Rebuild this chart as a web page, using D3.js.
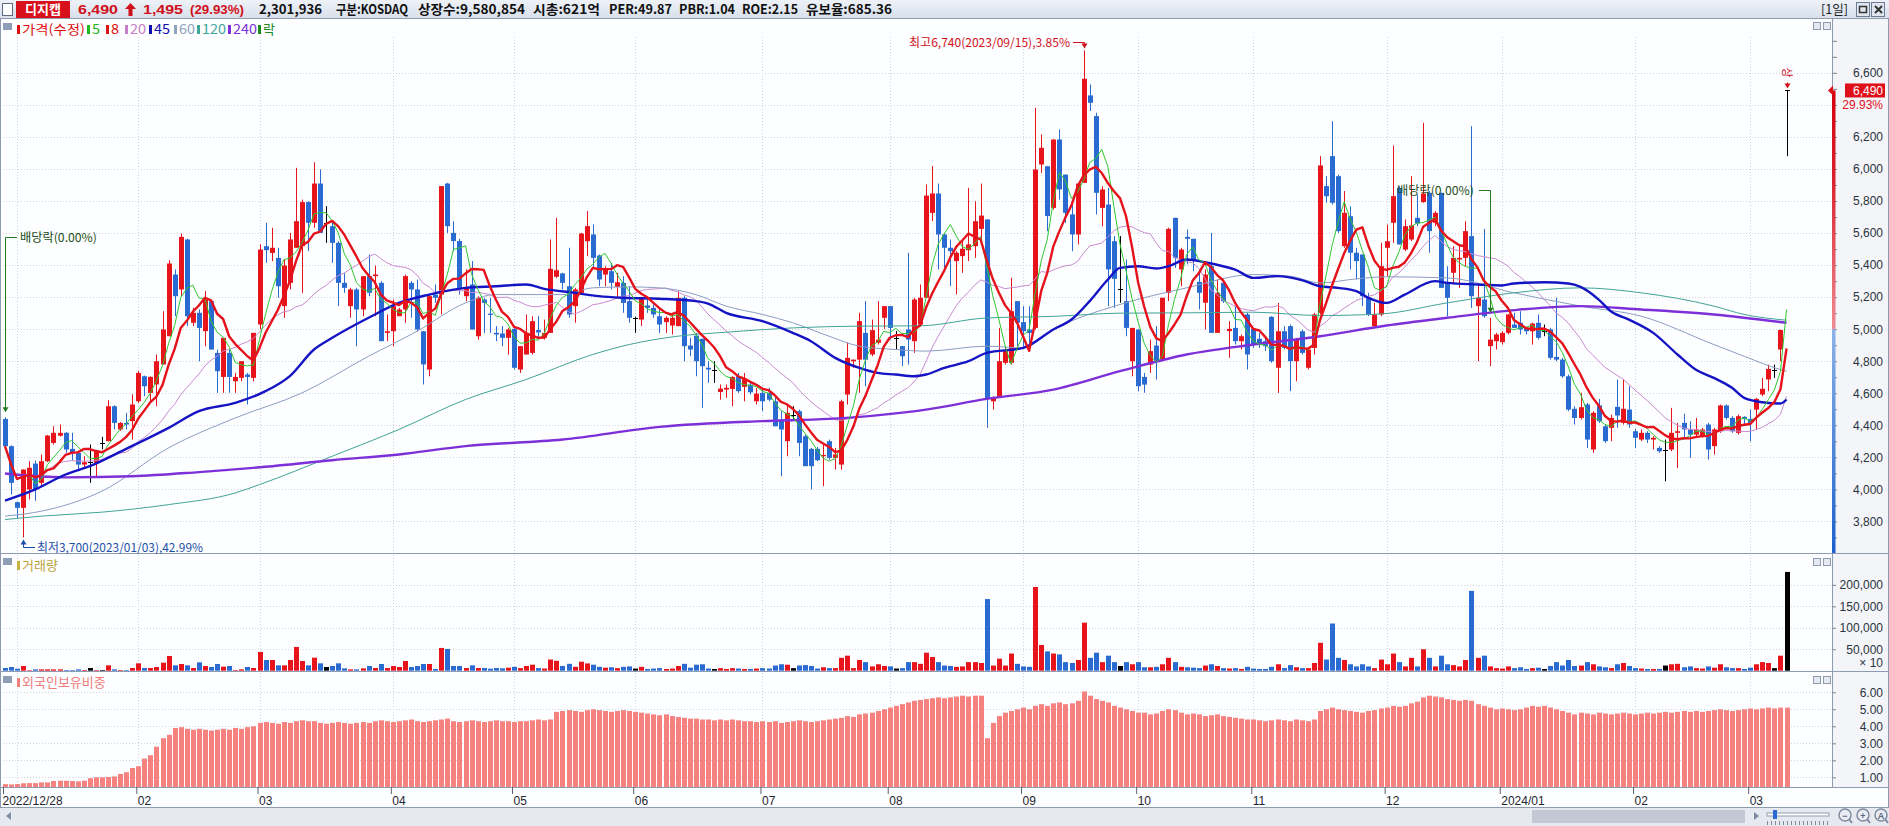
<!DOCTYPE html>
<html><head><meta charset="utf-8">
<script src="https://cdn.jsdelivr.net/npm/d3@7"></script>
<style>
body{margin:0;background:#fff;overflow:hidden}
svg{display:block}
text{font-family:"Noto Sans CJK KR","Liberation Sans",sans-serif}
</style></head><body>
<svg id="c" width="1889" height="826"></svg>
<script>
// ---------------- DATA ----------------
const opens=[4440,4270,3920,3885,4000,4161,4041,4176,4290,4335,
4353,4253,4228,4155,4170,4166,4290,4301,4519,4374,
4415,4426,4550,4706,4602,4655,4780,4956,5341,5248,
5560,5040,5102,4988,5175,4852,4702,4852,4675,4696,
4717,4696,5029,5518,5476,5445,5144,5289,5508,5518,
5793,5664,5909,5664,5643,5539,5289,5144,5248,5123,
5331,5331,5289,4977,4987,5081,5123,5289,5248,4987,
4748,5216,5216,5909,5601,5550,5206,5279,4956,5185,
5097,4977,4973,4946,5002,4748,4842,4852,4994,4946,
4977,5327,5348,5268,5144,5227,5549,5591,5460,5341,
5362,5264,5289,5175,5071,5060,5148,5133,5081,5044,
5023,5019,5196,4898,4960,4940,4759,4748,4608,4623,
4627,4706,4640,4654,4550,4602,4602,4550,4436,4301,
4467,4488,4332,4253,4253,4207,4301,4197,4155,4592,
4800,4810,4977,4842,4915,5071,5144,4946,4894,4998,
4925,5029,5196,5726,5847,5591,5508,5425,5456,5493,
5518,5626,5685,4550,4571,4790,4790,5175,5044,4998,
5008,6028,6017,5757,6184,5965,5716,5591,5913,6459,
6330,5757,5778,5549,5248,5175,4800,4998,4702,4779,
4898,4810,5227,5695,5373,5576,5564,5295,5165,5393,
4977,5289,4988,5008,4925,5092,5002,4940,4925,5077,
4759,4987,5019,4800,4987,4759,4883,5102,5893,6080,
5955,5518,5705,5477,5466,5196,5019,5092,5508,5664,
5882,5497,5560,5695,5793,5851,5664,5851,5289,5352,
5435,5445,5581,5144,5185,4894,4925,4919,4977,5029,
5040,5008,4987,5040,4988,4998,4827,4810,4706,4503,
4446,4530,4249,4524,4394,4384,4515,4415,4498,4363,
4311,4353,4311,4259,4244,4249,4353,4415,4374,4342,
4332,4405,4270,4363,4524,4446,4353,4453,4440,4498,
4592,4686,4748,4873,6490];
const highs=[4450,4275,3925,4124,4176,4180,4218,4340,4394,4405,
4358,4353,4238,4207,4280,4245,4328,4557,4525,4420,
4478,4593,4738,4710,4706,4842,5112,5431,5373,5597,
5564,5133,5123,5237,5185,4873,4946,4873,4727,4800,
4727,4977,5529,5664,5633,5508,5435,5601,6007,5809,
5799,6042,5997,5768,5674,5549,5352,5258,5258,5331,
5466,5397,5300,5092,5185,5133,5341,5300,5310,4987,
5216,5279,5893,5913,5674,5564,5373,5425,5206,5196,
5196,5019,5019,5008,5019,4894,5092,5081,5081,5060,
5560,5695,5352,5508,5258,5601,5737,5653,5466,5393,
5414,5352,5331,5268,5077,5202,5196,5154,5123,5081,
5102,5237,5206,4946,4977,4940,4800,4800,4655,4655,
4706,4727,4727,4665,4634,4634,4634,4581,4488,4524,
4519,4498,4342,4259,4265,4290,4311,4259,4560,4915,
4810,5102,5175,5060,5175,5144,5144,4988,4894,5477,
5196,5279,5903,6018,5909,5601,5560,5487,5560,5882,
5799,5909,5685,4581,5008,4894,5320,5175,5144,5144,
6382,6216,6017,6184,6246,5965,5789,5913,6740,6527,
6351,5893,5882,5581,5581,5435,5008,4998,4727,4935,
5019,5196,5633,5695,5508,5622,5564,5352,5373,5601,
5310,5300,5050,5144,4967,5102,5008,4977,4956,5081,
5164,5019,5029,4946,4998,4873,5102,6080,5955,6298,
5965,5862,5768,5508,5466,5227,5164,5539,5653,6146,
5893,5685,5955,5837,6288,5862,5737,5851,5393,5518,
5518,5674,6267,5289,5626,5071,4977,4988,5092,5102,
5112,5008,5040,5092,5029,5008,5196,4821,4717,4519,
4603,4540,4488,4565,4405,4467,4686,4686,4644,4378,
4374,4363,4332,4270,4311,4509,4415,4472,4426,4446,
4384,4415,4384,4530,4530,4457,4467,4457,4498,4571,
4696,4779,4779,4998,6490];
const lows=[4265,3968,3822,3700,3937,3930,4020,4170,4280,4330,
4228,4182,4114,4134,4041,4082,4250,4300,4374,4365,
4374,4311,4540,4582,4540,4519,4780,4956,5081,5206,
5019,5019,4800,4894,4873,4603,4603,4603,4603,4675,
4530,4675,4998,5414,5425,5196,5071,5248,5508,5227,
5487,5633,5601,5539,5414,5144,5227,5071,4894,5081,
5206,5081,4925,4925,4894,5081,5040,5071,4987,4655,
4706,5164,5092,5601,5487,5216,5175,4998,4935,4977,
4977,4925,4894,4842,4748,4727,4842,4842,4935,4935,
4977,5320,5248,5071,5040,5216,5456,5383,5268,5268,
5248,5196,5102,5040,4977,5019,5102,5071,4977,4977,
4967,5019,4800,4831,4706,4509,4665,4665,4560,4571,
4519,4603,4550,4592,4530,4488,4550,4394,4082,4207,
4436,4207,4145,4000,4176,4020,4186,4124,4124,4530,
4758,4603,4644,4831,4904,5002,4935,4873,4769,4779,
4852,5019,5196,5675,5373,5373,5269,5217,5352,5425,
5445,5529,4384,4498,4571,4779,4779,4894,4894,4863,
4998,5976,5612,5747,5809,5664,5487,5529,5913,6362,
5716,5643,5144,5133,5165,4956,4706,4613,4603,4727,
4686,4800,5175,5383,5268,5404,5362,5123,4998,4977,
4977,5164,4821,4904,4873,4748,4883,4883,4863,4790,
4602,4873,4613,4675,4842,4748,4842,5092,5789,5778,
5601,5508,5373,5310,5144,5081,5008,5081,5331,5539,
5529,5487,5550,5643,5789,5477,5643,5258,5081,5279,
5258,5393,5133,4800,5071,4769,4873,4904,4967,5008,
4967,4967,4904,4935,4956,4810,4800,4696,4488,4405,
4436,4259,4228,4415,4290,4301,4384,4405,4384,4259,
4301,4290,4249,4228,4051,4238,4134,4311,4197,4332,
4322,4186,4218,4353,4436,4353,4342,4405,4301,4374,
4582,4613,4696,4800,6080];
const closes=[4270,4041,3885,4124,4135,3999,4176,4336,4353,4353,
4249,4228,4155,4170,4170,4238,4290,4519,4415,4415,
4405,4530,4727,4644,4702,4800,4998,5410,5206,5576,
5081,5102,5008,5185,4873,4738,4946,4702,4702,4800,
4702,4977,5497,5493,5508,5268,5397,5560,5674,5793,
5664,5909,5601,5664,5539,5289,5258,5248,5123,5331,
5227,5341,4925,4987,5144,5123,5331,5248,4998,4780,
5206,5196,5893,5643,5550,5258,5258,4998,5196,5164,
5089,4967,4946,4998,4759,4894,4977,5050,4980,4977,
5377,5368,5289,5092,5248,5597,5643,5445,5310,5373,
5289,5293,5164,5071,5071,5196,5133,5092,5029,5071,
5071,5196,4894,4873,4800,4769,4748,4748,4629,4634,
4702,4613,4690,4606,4598,4550,4560,4394,4374,4478,
4467,4290,4145,4145,4182,4215,4197,4218,4550,4821,
4810,5050,4810,4994,4935,5144,5008,4946,4831,4935,
5185,5196,5834,5847,5591,5508,5487,5477,5502,5529,
5674,5709,4565,4571,4800,4863,5112,5040,4988,4977,
5997,6132,5706,6184,5872,5726,5591,5909,6563,6413,
5851,5872,5373,5314,5248,5008,5008,4644,4654,4863,
4800,5196,5626,5445,5497,5564,5435,5227,5341,4977,
5227,5175,5002,4925,4956,4842,4904,4904,4894,4800,
4987,4883,4800,4935,4852,4873,5092,6022,5830,5789,
5612,5726,5477,5425,5206,5092,5092,5393,5549,5830,
5529,5643,5647,5660,5847,5612,5726,5258,5196,5445,
5445,5612,5206,5196,5081,4935,4967,4977,5092,5008,
4998,4987,5035,4946,4988,4821,4810,4706,4498,4446,
4513,4311,4478,4426,4301,4446,4461,4503,4405,4322,
4353,4311,4322,4238,4244,4353,4363,4374,4342,4374,
4374,4249,4374,4524,4446,4363,4457,4440,4415,4565,
4628,4752,4748,4995,6490];
const volumes=[62400,85800,46800,109200,7800,31200,31200,31200,31200,31200,
15600,15600,31200,15600,62400,15600,15600,124800,31200,15600,
15600,62400,171600,62400,62400,85800,187200,343200,124800,156000,
124800,62400,195000,109200,85800,156000,93600,109200,15600,31200,
85800,62400,436800,249600,249600,124800,124800,249600,553800,226200,
124800,304200,171600,85800,109200,171600,54600,31200,31200,54600,
109200,62400,156000,62400,109200,85800,226200,85800,109200,156000,
156000,39000,530400,507000,109200,109200,62400,124800,62400,62400,
46800,62400,55000,70000,90000,60000,110000,140000,60000,50000,
260000,230000,110000,160000,90000,210000,170000,140000,90000,70000,
80000,60000,90000,100000,50000,90000,40000,50000,60000,40000,
50000,110000,160000,70000,140000,150000,50000,40000,60000,40000,
60000,50000,40000,40000,50000,60000,50000,120000,150000,140000,
60000,120000,130000,110000,50000,80000,60000,60000,300000,350000,
60000,250000,200000,100000,150000,110000,100000,50000,60000,200000,
200000,160000,420000,320000,200000,120000,110000,90000,100000,200000,
200000,180000,1670000,120000,280000,120000,400000,160000,100000,90000,
1950000,600000,450000,400000,380000,200000,180000,250000,1120000,300000,
420000,200000,350000,200000,110000,200000,150000,200000,80000,80000,
90000,150000,300000,200000,90000,80000,70000,60000,120000,150000,
110000,60000,50000,60000,40000,90000,50000,40000,40000,90000,
150000,60000,130000,80000,60000,60000,180000,650000,260000,1100000,
300000,250000,150000,100000,150000,100000,60000,260000,150000,400000,
200000,100000,300000,100000,500000,300000,100000,350000,150000,130000,
100000,250000,1860000,300000,350000,100000,60000,50000,100000,60000,
80000,40000,60000,70000,40000,110000,200000,120000,250000,110000,
120000,200000,150000,100000,80000,60000,150000,180000,110000,60000,
50000,40000,40000,40000,120000,150000,160000,80000,100000,60000,
50000,100000,70000,150000,80000,60000,60000,40000,70000,150000,
200000,180000,60000,350000,2301936];
const foreignPct=[0.60,0.58,0.60,0.65,0.66,0.66,0.70,0.70,0.78,0.80,
0.80,0.78,0.76,0.80,0.95,1.00,1.00,1.02,1.05,1.20,
1.30,1.55,1.65,2.10,2.30,2.80,3.30,3.50,3.90,3.95,
3.85,3.80,3.85,3.80,3.75,3.80,3.85,3.80,3.90,3.85,
3.95,4.00,4.20,4.25,4.20,4.15,4.25,4.20,4.30,4.35,
4.30,4.30,4.20,4.15,4.20,4.25,4.20,4.15,4.20,4.25,
4.20,4.30,4.35,4.30,4.25,4.30,4.35,4.40,4.30,4.25,
4.30,4.35,4.40,4.45,4.30,4.25,4.30,4.35,4.30,4.25,
4.30,4.35,4.30,4.30,4.25,4.30,4.30,4.35,4.40,4.35,
4.40,4.85,4.90,4.95,4.90,4.85,4.95,5.00,4.95,4.90,
4.85,4.90,4.95,4.90,4.85,4.80,4.75,4.70,4.65,4.70,
4.60,4.55,4.50,4.45,4.45,4.40,4.40,4.35,4.40,4.35,
4.40,4.35,4.30,4.30,4.25,4.30,4.25,4.30,4.20,4.25,
4.30,4.35,4.30,4.25,4.30,4.35,4.40,4.45,4.50,4.60,
4.55,4.70,4.75,4.80,4.90,5.00,5.10,5.20,5.30,5.40,
5.50,5.55,5.60,5.65,5.70,5.65,5.70,5.75,5.80,5.75,
5.80,5.80,3.30,4.20,4.60,4.80,4.90,5.00,5.10,5.00,
5.20,5.30,5.20,5.35,5.40,5.30,5.35,5.50,6.05,5.80,
5.60,5.50,5.40,5.20,5.10,5.00,4.90,4.80,4.80,4.70,
4.75,4.90,5.00,4.95,4.80,4.70,4.75,4.70,4.60,4.65,
4.70,4.60,4.55,4.50,4.45,4.40,4.40,4.35,4.30,4.35,
4.40,4.35,4.30,4.40,4.35,4.30,4.40,4.90,5.00,5.10,
5.00,4.95,4.90,4.85,4.80,4.90,4.95,5.05,5.10,5.20,
5.15,5.20,5.35,5.45,5.70,5.80,5.75,5.70,5.60,5.55,
5.50,5.55,5.50,5.30,5.20,5.10,5.00,5.05,5.00,4.95,
5.00,5.10,5.20,5.15,5.20,5.10,5.00,4.90,4.80,4.70,
4.80,4.75,4.70,4.80,4.75,4.70,4.75,4.80,4.75,4.70,
4.75,4.80,4.75,4.80,4.85,4.80,4.85,4.90,4.85,4.90,
4.85,4.90,4.95,5.00,4.95,4.90,4.95,5.00,5.05,5.00,
5.05,5.10,5.05,5.10,5.10];
// long moving averages: [day index, value]
const ma45Pts=[[0,3930],[5,4000],[10,4093],[14,4145],[20,4253],[27,4384],[32,4488],[38,4540],[43,4613],[47,4707],[51,4873],[54,4946],[60,5071],[65,5164],[70,5216],[76,5258],[81,5268],[86,5279],[89,5252],[94,5227],[98,5206],[102,5196],[108,5190],[114,5175],[116,5160],[119,5102],[125,5050],[130,4977],[133,4925],[137,4821],[141,4758],[144,4727],[147,4717],[150,4706],[152,4717],[155,4758],[159,4800],[162,4852],[168,4883],[173,4998],[176,5060],[179,5175],[182,5310],[184,5383],[187,5393],[190,5379],[192,5393],[195,5435],[198,5418],[201,5393],[203,5372],[206,5320],[210,5331],[214,5306],[217,5268],[220,5258],[223,5237],[225,5196],[228,5164],[231,5216],[236,5300],[238,5289],[243,5279],[247,5273],[249,5285],[254,5293],[258,5285],[260,5264],[263,5185],[265,5112],[268,5060],[272,4977],[276,4842],[279,4748],[282,4696],[285,4634],[287,4571],[290,4544],[293,4536],[294,4561]];
const ma60Pts=[[0,3833],[6,3864],[16,3989],[27,4259],[38,4446],[49,4602],[60,4831],[68,4987],[76,5164],[81,5216],[92,5216],[97,5258],[103,5264],[108,5258],[114,5216],[119,5144],[125,5092],[130,5040],[136,4956],[141,4894],[147,4873],[152,4863],[162,4894],[168,4883],[173,4998],[184,5154],[195,5258],[206,5341],[212,5331],[217,5289],[223,5314],[228,5327],[238,5320],[249,5227],[260,5144],[270,5081],[282,4904],[287,4831],[293,4748],[294,4738]];
const ma120Pts=[[0,3812],[6,3833],[16,3858],[27,3905],[38,3978],[42,4030],[54,4207],[65,4374],[76,4561],[86,4686],[97,4842],[103,4904],[111,4956],[119,4981],[130,5008],[141,5019],[151,5021],[162,5070],[173,5080],[184,5100],[195,5102],[206,5106],[217,5085],[227,5095],[238,5164],[249,5227],[260,5258],[270,5227],[282,5144],[287,5092],[294,5056]];
const ma240Pts=[[0,4099],[10,4075],[21,4082],[32,4108],[43,4141],[54,4182],[65,4218],[76,4270],[92,4311],[108,4390],[125,4426],[136,4440],[152,4498],[162,4565],[173,4623],[184,4738],[195,4842],[206,4904],[217,4956],[228,5023],[238,5071],[249,5119],[260,5144],[270,5123],[282,5092],[294,5040]];
const xTickIdx=[0,22,42,64,84,104,125,146,168,187,206,228,247,269,288];
const xTickLabels=["2022/12/28","02","03","04","05","06","07","08","09","10","11","12","2024/01","02","03"];
const monthGridIdx=[2,22,42,64,84,104,125,146,168,187,206,228,247,269,288];
const priceTicks=[3800,4000,4200,4400,4600,4800,5000,5200,5400,5600,5800,6000,6200,6400,6600];
const priceLabelsHidden=[6400]; // covered by the current-price tag
const volTicks=[500000,1000000,1500000,2000000];
const volTickLabels=["50,000","100,000","150,000","200,000"];
const foreignTicks=[1,2,3,4,5,6];

// ---------------- LAYOUT ----------------
const W=1889,H=826,PR=1832,P_TOP=19,P_BOT=553,V_TOP=553,V_BOT=671,F_TOP=671,F_BOT=787,AX_BOT=807;
const UP="#e8141c",DN="#2a6bd2",DOJI="#000";
const svg=d3.select("#c");
const N=closes.length;
const x=d3.scaleLinear().domain([0,301.5]).range([5,PR]);
const yP=d3.scaleLinear().domain([3603,6936]).range([P_BOT,P_TOP]);
const yV=d3.scaleLinear().domain([0,2743000]).range([670.7,V_TOP]);
const yF=d3.scaleLinear().domain([0.43,7.21]).range([F_BOT,F_TOP+0.7]);
const colOf=i=>closes[i]>opens[i]?UP:(closes[i]<opens[i]?DN:DOJI);
const NUM='"Liberation Sans",Arial,sans-serif';

svg.append("rect").attr("width",W).attr("height",H).attr("fill","#fdfeff");
svg.append("rect").attr("x",PR).attr("y",P_TOP).attr("width",W-PR).attr("height",F_BOT-P_TOP).attr("fill","#f3f5f9");

const defs=svg.append("defs");
defs.append("clipPath").attr("id","clipP").append("rect").attr("x",0).attr("y",P_TOP).attr("width",PR).attr("height",P_BOT-P_TOP);
const gH=defs.append("linearGradient").attr("id","hdr").attr("x1",0).attr("y1",0).attr("x2",0).attr("y2",1);
gH.append("stop").attr("offset",0).attr("stop-color","#eef2f8");gH.append("stop").attr("offset",1).attr("stop-color","#d7dfea");
const gR=defs.append("linearGradient").attr("id","barRed").attr("x1",0).attr("y1",0).attr("x2",0).attr("y2",1);
gR.append("stop").attr("offset",0).attr("stop-color","#d4000f");gR.append("stop").attr("offset",0.35).attr("stop-color","#d8202c");gR.append("stop").attr("offset",1).attr("stop-color","#ef8a92");
const gB=defs.append("linearGradient").attr("id","barBlue").attr("x1",0).attr("y1",0).attr("x2",0).attr("y2",1);
gB.append("stop").attr("offset",0).attr("stop-color","#8db2e6");gB.append("stop").attr("offset",1).attr("stop-color","#1a5fcc");

// ---------- grid ----------
const grid=svg.append("g").attr("stroke","#cdd4de").attr("stroke-dasharray","1,2").attr("stroke-width",1);
priceTicks.forEach(v=>grid.append("line").attr("x1",0).attr("x2",PR).attr("y1",Math.round(yP(v))+0.5).attr("y2",Math.round(yP(v))+0.5));
volTicks.forEach(v=>grid.append("line").attr("x1",0).attr("x2",PR).attr("y1",Math.round(yV(v))+0.5).attr("y2",Math.round(yV(v))+0.5));
foreignTicks.forEach(v=>grid.append("line").attr("x1",0).attr("x2",PR).attr("y1",Math.round(yF(v))+0.5).attr("y2",Math.round(yF(v))+0.5));
monthGridIdx.forEach(i=>{
  const gx=Math.round(x(i))+0.5;
  [[P_TOP+18,P_BOT],[V_TOP+2,V_BOT],[F_TOP+2,F_BOT]].forEach(r=>grid.append("line").attr("x1",gx).attr("x2",gx).attr("y1",r[0]).attr("y2",r[1]));
});

// ---------- candles ----------
const gc=svg.append("g").attr("clip-path","url(#clipP)");
const idx=d3.range(N);
gc.selectAll("line.w").data(idx).join("line").attr("class","w")
  .attr("x1",i=>Math.round(x(i))+0.5).attr("x2",i=>Math.round(x(i))+0.5)
  .attr("y1",i=>yP(highs[i])).attr("y2",i=>yP(lows[i])).attr("stroke",colOf).attr("stroke-width",1);
gc.selectAll("rect.b").data(idx.filter(i=>opens[i]!==closes[i])).join("rect").attr("class","b")
  .attr("x",i=>Math.round(x(i))-2).attr("width",5)
  .attr("y",i=>yP(Math.max(opens[i],closes[i])))
  .attr("height",i=>Math.max(1,Math.abs(yP(opens[i])-yP(closes[i]))))
  .attr("fill",colOf);
gc.selectAll("line.d").data(idx.filter(i=>opens[i]===closes[i])).join("line").attr("class","d")
  .attr("x1",i=>Math.round(x(i))-2).attr("x2",i=>Math.round(x(i))+3)
  .attr("y1",i=>Math.round(yP(closes[i]))+0.5).attr("y2",i=>Math.round(yP(closes[i]))+0.5)
  .attr("stroke",DOJI).attr("stroke-width",1);

// ---------- moving averages ----------
function sma(arr,n){return arr.map((_,i)=>d3.mean(arr.slice(Math.max(0,i-n+1),i+1)));}
const lineIdx=d3.line().x((d,i)=>x(i)).y(d=>yP(d));
const linePts=d3.line().x(d=>x(d[0])).y(d=>yP(d[1])).curve(d3.curveMonotoneX);
const gm=svg.append("g").attr("clip-path","url(#clipP)").attr("fill","none").attr("stroke-linejoin","round");
gm.append("path").attr("d",lineIdx(sma(closes,20))).attr("stroke","#c98ad0").attr("stroke-width",1);
gm.append("path").attr("d",linePts(ma60Pts)).attr("stroke","#8b9dc3").attr("stroke-width",1);
gm.append("path").attr("d",linePts(ma120Pts)).attr("stroke","#3fa596").attr("stroke-width",1);
gm.append("path").attr("d",linePts(ma240Pts)).attr("stroke","#7d2fd8").attr("stroke-width",2.4);
gm.append("path").attr("d",linePts(ma45Pts)).attr("stroke","#1414c4").attr("stroke-width",2.4);
gm.append("path").attr("d",lineIdx(sma(closes,5))).attr("stroke","#2ec82e").attr("stroke-width",1);
gm.append("path").attr("d",lineIdx(sma(closes,8))).attr("stroke","#e5121b").attr("stroke-width",2.4);

// ---------- volume ----------
svg.append("g").selectAll("rect").data(idx).join("rect")
  .attr("x",i=>Math.round(x(i))-2).attr("width",5)
  .attr("y",i=>yV(volumes[i])).attr("height",i=>Math.max(0.5,yV(0)-yV(volumes[i])))
  .attr("fill",colOf);

// ---------- foreign ownership ----------
svg.append("g").selectAll("rect").data(idx).join("rect")
  .attr("x",i=>Math.round(x(i))-2).attr("width",5)
  .attr("y",i=>yF(foreignPct[i])).attr("height",i=>F_BOT-yF(foreignPct[i]))
  .attr("fill","#f6827f");

// ---------- panel frames ----------
const fr=svg.append("g").attr("stroke","#8e9bb0").attr("stroke-width",1);
[P_BOT,V_BOT,F_BOT].forEach(y=>fr.append("line").attr("x1",0).attr("x2",W).attr("y1",y+0.5).attr("y2",y+0.5));
fr.append("line").attr("x1",PR+0.5).attr("x2",PR+0.5).attr("y1",P_TOP).attr("y2",F_BOT);
fr.append("line").attr("x1",0.5).attr("x2",0.5).attr("y1",P_TOP).attr("y2",AX_BOT);
fr.append("line").attr("x1",W-0.5).attr("x2",W-0.5).attr("y1",P_TOP).attr("y2",AX_BOT);

// ---------- price axis ----------
const minorTicks=d3.range(3700,6801,100);
const gA=svg.append("g").attr("transform",`translate(${PR},0)`);
gA.call(d3.axisRight(yP).tickValues(minorTicks).tickSize(5).tickFormat(d=>(priceTicks.includes(d)&&!priceLabelsHidden.includes(d))?d3.format(",")(d):""));
gA.select(".domain").remove();
gA.selectAll("line").attr("stroke","#7b8797");
gA.selectAll("text").attr("x",51).attr("text-anchor","end").attr("fill","#2b3340").style("font",`12px ${NUM}`);
svg.append("rect").attr("x",PR).attr("y",yP(6490)).attr("width",3.5).attr("height",yP(5000)-yP(6490)).attr("fill","url(#barRed)");
svg.append("rect").attr("x",PR).attr("y",yP(5000)).attr("width",3.5).attr("height",P_BOT-yP(5000)).attr("fill","url(#barBlue)");
svg.append("path").attr("d",`M${PR-4},${yP(6490)} L${PR+1},${yP(6490)-5} L${PR+1},${yP(6490)+5}Z`).attr("fill","#e0101b");
svg.append("rect").attr("x",1845).attr("y",yP(6490)-7).attr("width",40).attr("height",14).attr("fill","#e0101b");
svg.append("text").attr("x",1883).attr("y",yP(6490)+4.5).attr("text-anchor","end").attr("fill","#fff").style("font",`12px ${NUM}`).text("6,490");
svg.append("text").attr("x",1883).attr("y",yP(6490)+19).attr("text-anchor","end").attr("fill","#e0101b").style("font",`12px ${NUM}`).text("29.93%");

// ---------- volume axis ----------
const gVA=svg.append("g").attr("transform",`translate(${PR},0)`);
gVA.call(d3.axisRight(yV).tickValues(volTicks).tickSize(4).tickFormat((d,i)=>volTickLabels[i]));
gVA.select(".domain").remove();
gVA.selectAll("line").attr("stroke","#7b8797");
gVA.selectAll("text").attr("x",51).attr("text-anchor","end").attr("fill","#2b3340").style("font",`12px ${NUM}`);
svg.append("text").attr("x",1883).attr("y",667).attr("text-anchor","end").attr("fill","#2b3340").style("font",`12px ${NUM}`).text("× 10");

// ---------- foreign axis ----------
const gFA=svg.append("g").attr("transform",`translate(${PR},0)`);
gFA.call(d3.axisRight(yF).tickValues(foreignTicks).tickSize(4).tickFormat(d3.format(".2f")));
gFA.select(".domain").remove();
gFA.selectAll("line").attr("stroke","#7b8797");
gFA.selectAll("text").attr("x",51).attr("text-anchor","end").attr("fill","#2b3340").style("font",`12px ${NUM}`);

// ---------- x axis ----------
const gX=svg.append("g").attr("transform",`translate(0,${F_BOT})`);
gX.call(d3.axisBottom(x).tickValues(xTickIdx).tickSize(7).tickFormat((d,i)=>xTickLabels[i]));
gX.select(".domain").remove();
gX.selectAll("line").attr("stroke","#5a6270").attr("transform","translate(-2,0)");
gX.selectAll("text").attr("text-anchor","start").attr("x",-1).attr("y",9).attr("dy","0.71em").attr("fill","#1f2530").style("font",`12px ${NUM}`);
gX.selectAll(".tick").filter((d,i)=>i===0).select("text").attr("x",-3);

// ---------- bottom strip ----------
svg.append("rect").attr("x",0).attr("y",AX_BOT).attr("width",W).attr("height",H-AX_BOT).attr("fill","#e6eaf0");
svg.append("line").attr("x1",0).attr("x2",W).attr("y1",AX_BOT+0.5).attr("y2",AX_BOT+0.5).attr("stroke","#8e9bb0");
svg.append("path").attr("d","M6,816 L11,812 L11,820Z").attr("fill","#7f8ba0");
svg.append("rect").attr("x",1532).attr("y",810).attr("width",213).attr("height",13).attr("fill","#c2c9d4");
svg.append("path").attr("d","M1754,812 L1759,816 L1754,820Z").attr("fill","#7f8ba0");
svg.append("rect").attr("x",1767).attr("y",813).attr("width",62).attr("height",3).attr("fill","#fff").attr("stroke","#8e9bb0");
svg.append("rect").attr("x",1773).attr("y",810).attr("width",4).attr("height",9).attr("fill","#2a6bd2");
d3.range(1767,1830,4).forEach(tx=>svg.append("line").attr("x1",tx+0.5).attr("x2",tx+0.5).attr("y1",821).attr("y2",825).attr("stroke","#7f8ba0"));
[["−",1845],["+",1863],["A",1881]].forEach(([s,cx])=>{
  svg.append("circle").attr("cx",cx).attr("cy",815).attr("r",6).attr("fill","#e9edf3").attr("stroke","#7f8ba0").attr("stroke-width",1.5);
  svg.append("line").attr("x1",cx+4).attr("y1",819).attr("x2",cx+7).attr("y2",823).attr("stroke","#7f8ba0").attr("stroke-width",2);
  svg.append("text").attr("x",cx).attr("y",818.5).attr("text-anchor","middle").attr("fill","#5d6980").style("font",`bold 9px ${NUM}`).text(s);
});

// ---------- header ----------
svg.append("rect").attr("x",0).attr("y",0).attr("width",W).attr("height",P_TOP).attr("fill","url(#hdr)");
svg.append("line").attr("x1",0).attr("x2",W).attr("y1",P_TOP-0.5).attr("y2",P_TOP-0.5).attr("stroke","#8e9bb0");
svg.append("rect").attr("x",2.5).attr("y",3.5).attr("width",10).attr("height",12).attr("fill","#fff").attr("stroke","#5e6b80");
svg.append("rect").attr("x",16).attr("y",1).attr("width",54).attr("height",17).attr("fill","#d8101c");
svg.append("text").attr("x",43).attr("y",14).attr("text-anchor","middle").attr("fill","#fff").style("font","bold 13px 'Noto Sans CJK KR'").text("디지캡");
const hdrRed=[["6,490",78,40],["1,495",143,40],["(29.93%)",190,54]];
hdrRed.forEach(([t,hx,w])=>svg.append("text").attr("x",hx).attr("y",14).attr("fill","#d0101b").attr("textLength",w).attr("lengthAdjust","spacingAndGlyphs").style("font",`bold 13px ${NUM}`).text(t));
svg.append("path").attr("d","M130.5,3 L136,9 L132.5,9 L132.5,16 L128.5,16 L128.5,9 L125,9Z").attr("fill","#d0101b");
const hdrBlk=[["2,301,936",259,63],["구분:KOSDAQ",336,72],["상장수:9,580,854",418,107],["시총:621억",533,67],["PER:49.87",609,63],["PBR:1.04",679,56],["ROE:2.15",742,56],["유보율:685.36",806,86]];
hdrBlk.forEach(([t,hx,w])=>svg.append("text").attr("x",hx).attr("y",14).attr("fill","#111").attr("textLength",w).attr("lengthAdjust","spacingAndGlyphs").style("font","bold 13px 'Noto Sans CJK KR'").text(t));
svg.append("text").attr("x",1821).attr("y",14).attr("fill","#222").attr("textLength",27).attr("lengthAdjust","spacingAndGlyphs").style("font","13px 'Noto Sans CJK KR'").text("[1일]");
[1856,1871].forEach(bx=>svg.append("rect").attr("x",bx+0.5).attr("y",2.5).attr("width",13).attr("height",14).attr("fill","#dfe5ee").attr("stroke","#6f7d93"));
svg.append("rect").attr("x",1859.5).attr("y",6.5).attr("width",7).attr("height",6).attr("fill","none").attr("stroke","#333").attr("stroke-width",1.5);
svg.append("path").attr("d","M1875,6 L1882,13 M1882,6 L1875,13").attr("stroke","#333").attr("stroke-width",2);

[P_TOP+3,V_TOP+5,F_TOP+5].forEach(by=>{
  [1813,1823].forEach(bx=>svg.append("rect").attr("x",bx+0.5).attr("y",by+0.5).attr("width",7).attr("height",7).attr("fill","#e6eaf0").attr("stroke","#8e9bb0"));
});

// ---------- legends ----------
function legIcon(y){svg.append("rect").attr("x",3).attr("y",y).attr("width",9).attr("height",7).attr("fill","#8e9eb6");}
legIcon(P_TOP+4);legIcon(V_TOP+5);legIcon(F_TOP+5);
const legendItems=[["가격(수정)","#e01010",17,63],["5","#22b822",87,8],["8","#e01010",106,8],["20","#c77dc7",125,16],["45","#1010b0",149,16],["60","#8fa3c0",174,16],["120","#3fa596",197,24],["240","#7d2fd8",228,24],["락","#1a8a1a",258,12]];
legendItems.forEach(([t,c,lx,w])=>{
  svg.append("rect").attr("x",lx).attr("y",P_TOP+6).attr("width",3).attr("height",9).attr("fill",c);
  svg.append("text").attr("x",lx+5).attr("y",P_TOP+15).attr("fill",c).attr("textLength",w).attr("lengthAdjust","spacingAndGlyphs").style("font","13px 'Noto Sans CJK KR'").text(t);
});
svg.append("rect").attr("x",17).attr("y",V_TOP+8).attr("width",3).attr("height",9).attr("fill","#c8b43c");
svg.append("text").attr("x",22).attr("y",V_TOP+17).attr("fill","#bba43a").style("font","13px 'Noto Sans CJK KR'").text("거래량");
svg.append("rect").attr("x",17).attr("y",F_TOP+7).attr("width",3).attr("height",9).attr("fill","#f08080");
svg.append("text").attr("x",22).attr("y",F_TOP+16).attr("fill","#ee7b7b").style("font","13px 'Noto Sans CJK KR'").text("외국인보유비중");

// ---------- annotations ----------
const GRN="#247a24";
function arrowDown(ax,ay,c){svg.append("path").attr("d",`M${ax-3},${ay-5} L${ax+3},${ay-5} L${ax},${ay}Z`).attr("fill",c);}
{const ax=Math.round(x(0))+0.5, tip=yP(highs[0])-6;
 svg.append("path").attr("d",`M17,237.5 H${ax} V${tip}`).attr("fill","none").attr("stroke",GRN);
 arrowDown(ax,tip+1,GRN);
 svg.append("text").attr("x",20).attr("y",242).attr("fill","#1b4f1b").attr("textLength",77).attr("lengthAdjust","spacingAndGlyphs").style("font","12px 'Noto Sans CJK KR'").text("배당락(0.00%)");}
{const ax=Math.round(x(245))+0.5, tip=yP(highs[245])-6;
 svg.append("path").attr("d",`M1479,190.5 H${ax} V${tip}`).attr("fill","none").attr("stroke",GRN);
 arrowDown(ax,tip+1,GRN);
 svg.append("text").attr("x",1397).attr("y",195).attr("fill","#1b4f1b").attr("textLength",77).attr("lengthAdjust","spacingAndGlyphs").style("font","12px 'Noto Sans CJK KR'").text("배당락(0.00%)");}
{const ax=Math.round(x(178))+0.5, tip=yP(highs[178])-2;
 svg.append("path").attr("d",`M1073,42.5 H${ax} V${tip-3}`).attr("fill","none").attr("stroke","#d0101b");
 arrowDown(ax,tip,"#d0101b");
 svg.append("text").attr("x",909).attr("y",47).attr("fill","#d0101b").attr("textLength",161).attr("lengthAdjust","spacingAndGlyphs").style("font","12px 'Noto Sans CJK KR'").text("최고6,740(2023/09/15),3.85%");}
{const ax=Math.round(x(3))+0.5, tip=yP(lows[3])+2;
 svg.append("path").attr("d",`M${ax},${tip+3} V547.5 H35`).attr("fill","none").attr("stroke","#1e4fa8");
 svg.append("path").attr("d",`M${ax-3},${tip+5} L${ax+3},${tip+5} L${ax},${tip}Z`).attr("fill","#1e4fa8");
 svg.append("text").attr("x",37).attr("y",551.5).attr("fill","#1e4fa8").attr("textLength",166).attr("lengthAdjust","spacingAndGlyphs").style("font","12px 'Noto Sans CJK KR'").text("최저3,700(2023/01/03),42.99%");}
{const ax=Math.round(x(294))+0.5, tip=yP(highs[294])-2;
 svg.append("line").attr("x1",ax).attr("x2",ax).attr("y1",tip-6).attr("y2",tip-2).attr("stroke","#d0101b");
 arrowDown(ax,tip,"#d0101b");
 svg.append("text").attr("transform",`translate(${ax-5},${tip-16}) rotate(90)`).attr("text-anchor","middle").attr("fill","#d0101b").style("font","11px 'Noto Sans CJK KR'").text("상");}
</script>
</body></html>
